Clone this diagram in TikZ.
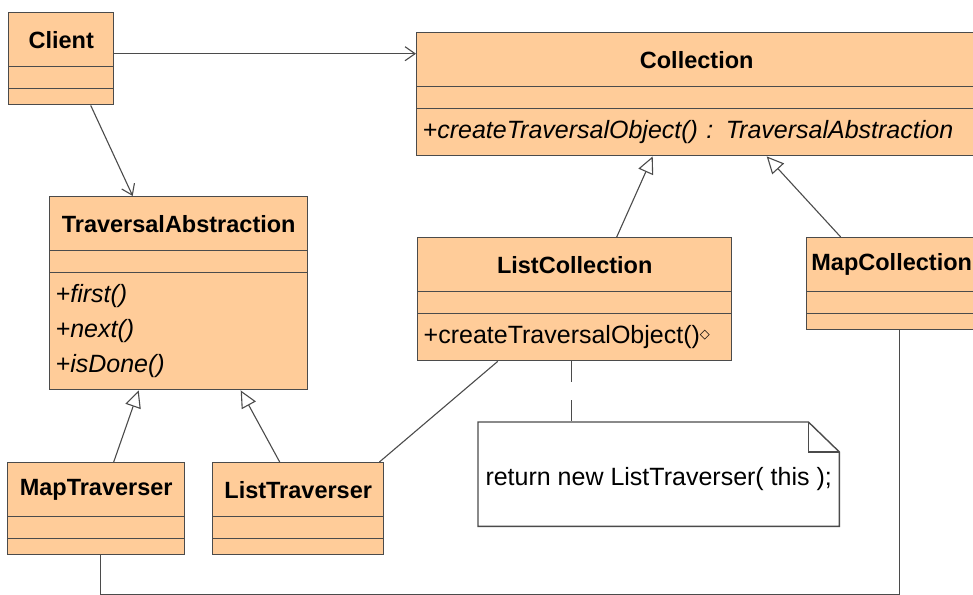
\documentclass[tikz,border=0pt]{standalone}
\usepackage{fontspec}
\setmainfont{Liberation Sans}
\newfontfamily\symfont{DejaVu Sans}
\usetikzlibrary{arrows.meta}
\definecolor{umlfill}{RGB}{255,204,153}
\definecolor{umlline}{RGB}{75,75,75}
\tikzset{
    part/.style={draw=umlline, fill=umlfill, line width=1.4pt, inner sep=0pt, anchor=north west,
        font=\fontsize{23.5}{28}\selectfont\bfseries},
    ops/.style={part, font=\fontsize{25}{35}\selectfont, align=left, inner xsep=6pt},
    opsit/.style={ops, font=\fontsize{25}{35}\selectfont\itshape},
    notetext/.style={inner sep=0pt, font=\fontsize{25}{30}\selectfont},
    noteline/.style={draw=umlline, line width=1.4pt},
    gen/.style={draw=umlline, line width=1.1pt, -{Triangle[open, length=17pt, width=16pt]}},
    assoc/.style={draw=umlline, line width=1.1pt, -{Straight Barb[length=10pt, width=14pt]}},
    link/.style={draw=umlline, line width=1.1pt},
}
\begin{document}
\begin{tikzpicture}[x=1pt, y=-1pt]
    \useasboundingbox (0,0) rectangle (973,594);
    \clip (0,0) rectangle (973,594);

    \node[part, minimum width=105pt, minimum height=54pt] (client) at (8,12) {Client};
    \node[part, minimum width=105pt, minimum height=22pt] (clientattr) at (8,66) {};
    \node[part, minimum width=105pt, minimum height=16pt] (clientops) at (8,88) {};

    \node[part, minimum width=560pt, minimum height=54pt] (coll) at (416,32) {Collection};
    \node[part, minimum width=560pt, minimum height=22pt] (collattr) at (416,86) {};
    \node[opsit, minimum width=560pt, minimum height=47pt, text width=548pt] (collops) at (416,108)
        {+createTraversalObject() : TraversalAbstraction};

    \node[part, minimum width=258pt, minimum height=54pt] (trav) at (49,196) {TraversalAbstraction};
    \node[part, minimum width=258pt, minimum height=22pt] (travattr) at (49,250) {};
    \node[opsit, minimum width=258pt, minimum height=117pt, text width=246pt] (travops) at (49,272)
        {+first()\\+next()\\+isDone()};

    \node[part, minimum width=314pt, minimum height=54pt] (listcoll) at (417,237) {ListCollection};
    \node[part, minimum width=314pt, minimum height=22pt] (listcollattr) at (417,291) {};
    \node[ops, minimum width=314pt, minimum height=47pt, text width=302pt] (listcollops) at (417,313)
        {+createTraversalObject()\raisebox{5pt}{\symfont\fontsize{13}{13}\selectfont ◇}};

    \node[part, minimum width=170pt, minimum height=54pt] (mapcoll) at (806,237) {MapCollection};
    \node[part, minimum width=170pt, minimum height=22pt] (mapcollattr) at (806,291) {};
    \node[part, minimum width=170pt, minimum height=16pt] (mapcollops) at (806,313) {};

    \node[part, minimum width=177pt, minimum height=54pt] (maptrav) at (7,462) {MapTraverser};
    \node[part, minimum width=177pt, minimum height=22pt] (maptravattr) at (7,516) {};
    \node[part, minimum width=177pt, minimum height=16pt] (maptravops) at (7,538) {};

    \node[part, minimum width=171pt, minimum height=54pt] (listtrav) at (212,462) {ListTraverser};
    \node[part, minimum width=171pt, minimum height=22pt] (listtravattr) at (212,516) {};
    \node[part, minimum width=171pt, minimum height=16pt] (listtravops) at (212,538) {};

    % note
    \node[anchor=north west, inner sep=0pt, minimum width=361pt, minimum height=104pt] (note) at (478,422) {};
    \node[notetext] (notebody) at ([yshift=-5pt]note.center) {return new ListTraverser( this );};
    \draw[noteline] (note.north west) -- ([xshift=-31pt]note.north east) -- ([yshift=-30pt]note.north east)
        -- (note.south east) -- (note.south west) -- cycle;
    \draw[noteline] ([xshift=-31pt]note.north east) |- ([yshift=-30pt]note.north east);

    \draw[assoc] ([yshift=-14pt]client.east) -- ([yshift=-14pt]client.east -| coll.west);
    \draw[assoc] ([xshift=29.5pt]clientops.south) -- ([xshift=-46pt]trav.north);
    \draw[gen] ([xshift=17.5pt]maptrav.north) -- ([xshift=-40pt]travops.south);
    \draw[gen] ([xshift=-18.5pt]listtrav.north) -- ([xshift=62pt]travops.south);
    \draw[gen] ([xshift=42pt]listcoll.north) -- ([xshift=-44pt]collops.south);
    \draw[gen] ([xshift=-51pt]mapcoll.north) -- ([xshift=70pt]collops.south);
    \draw[link] ([xshift=-5pt]listtrav.north east) -- ([xshift=-77pt]listcollops.south);
    \draw[link, dash pattern=on 21pt off 18pt] ([xshift=-3pt]listcollops.south)
        -- ([xshift=-3pt]listcollops.south |- note.north);
    \draw[link] ([xshift=4.5pt]maptravops.south) -- ++(0,39) -| ([xshift=8pt]mapcollops.south);
\end{tikzpicture}
\end{document}
